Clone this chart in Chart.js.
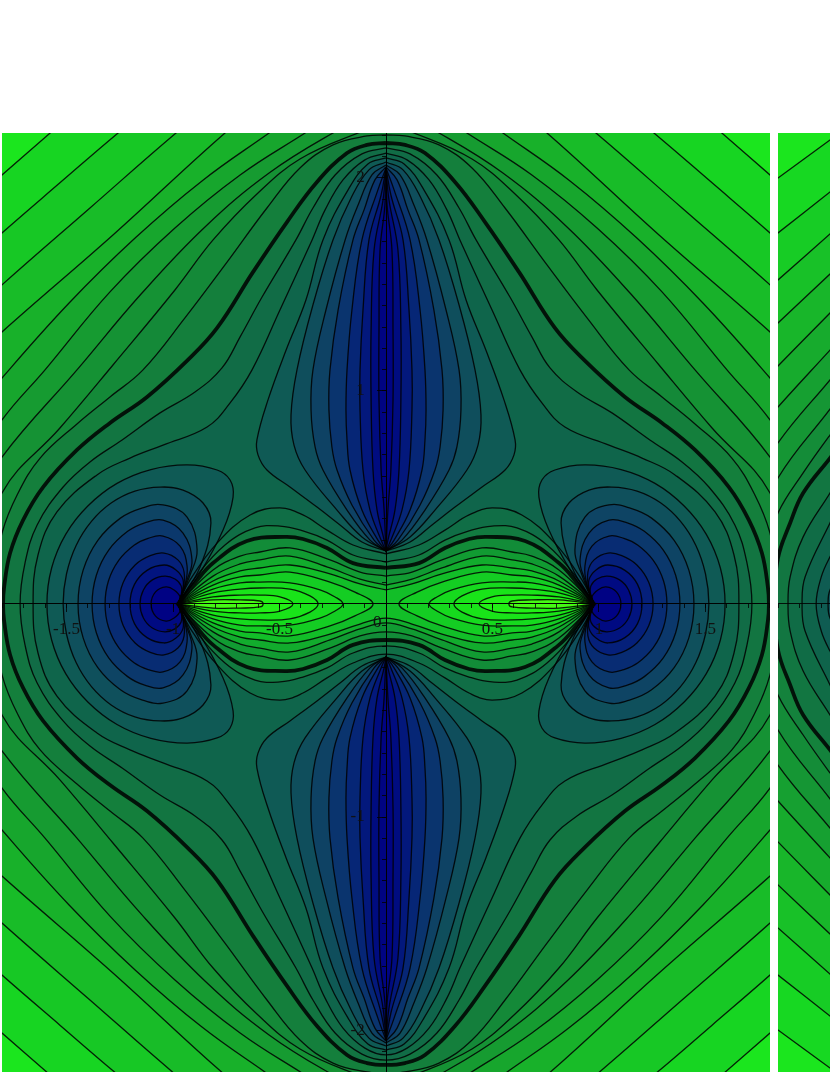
<!DOCTYPE html>
<html>
<head>
<meta charset="utf-8">
<title>Contour plot</title>
<script src="https://cdn.jsdelivr.net/npm/chart.js@4"></script>
<style>
html, body { margin: 0; padding: 0; background: #fff; }
canvas { position: absolute; top: 133px; background: rgb(27, 230, 30); filter: blur(0.5px); }
#left { left: 2px; }
#right { left: 778px; }
#zero { position: absolute; left: 373px; top: 612px; font: 17px "Liberation Serif"; color: #111; filter: blur(0.5px); }
</style>
</head>
<body>
<canvas id="left" width="768" height="939"></canvas>
<canvas id="right" width="52" height="939"></canvas>
<div id="zero">0</div>
<script>
// each list is one quarter of a contour, the rest is mirrored
const outer1 = [[0,3.7],[-0.7,3],[-1.3,2.45],[-1.577,2.211],[-1.803,2.014],[-2.1,1.75],[-3,0]];
const outer2 = [[0,3.3],[-0.6,2.75],[-1,2.42],[-1.258,2.211],[-1.531,1.977],[-1.803,1.742],[-2.05,1.52],[-2.7,0]];
const outer3 = [[0,3],[-0.45,2.62],[-0.75,2.4],[-0.986,2.211],[-1.39,1.859],[-1.803,1.498],[-2.05,1.27],[-2.5,0]];
const outer4 = [[0,2.75],[-0.3,2.55],[-0.55,2.37],[-0.756,2.211],[-1.282,1.732],[-1.803,1.277],[-2,1.09],[-2.3,0]];
const outer5 = [[0,2.55],[-0.2,2.45],[-0.38,2.33],[-0.549,2.211],[-0.864,1.986],[-1.178,1.718],[-1.488,1.413],[-1.803,1.061],[-1.95,0.88],[-2.1,0]];
const outer6 = [[0,2.42],[-0.12,2.37],[-0.25,2.295],[-0.38,2.211],[-0.685,2.014],[-0.991,1.765],[-1.296,1.465],[-1.601,1.099],[-1.803,0.864],[-1.93,0.65],[-2.03,0]];
const outer7 = [[0,2.3],[-0.12,2.27],[-0.249,2.211],[-0.549,2.023],[-0.85,1.77],[-1.15,1.455],[-1.451,1.099],[-1.803,0.69],[-1.9,0.5],[-1.95,0]];
const outer8 = [[0,2.25],[-0.131,2.211],[-0.404,2.089],[-0.606,1.925],[-0.812,1.709],[-0.991,1.474],[-1.282,1.122],[-1.531,0.826],[-1.803,0.521],[-1.84,0.25],[-1.86,0]];
const outer9 = [[0,2.202],[-0.089,2.197],[-0.249,2.155],[-0.404,2.047],[-0.559,1.859],[-0.756,1.592],[-0.944,1.343],[-1.141,1.099],[-1.296,0.972],[-1.451,0.845],[-1.624,0.685],[-1.732,0.512],[-1.803,0.333],[-1.83,0.15],[-1.84,0]];
const thickOuter = [[0,2.164],[-0.089,2.155],[-0.183,2.117],[-0.324,1.981],[-0.465,1.793],[-0.624,1.559],[-0.793,1.296],[-0.93,1.146],[-1.122,0.972],[-1.296,0.85],[-1.451,0.723],[-1.61,0.549],[-1.704,0.394],[-1.765,0.239],[-1.793,0.08],[-1.798,0]];
const wrap1Outer = [[0,2.141],[-0.113,2.113],[-0.239,2.014],[-0.343,1.859],[-0.423,1.709],[-0.582,1.441],[-0.685,1.254],[-0.77,1.108],[-0.897,0.995],[-1.061,0.897],[-1.239,0.77],[-1.39,0.667],[-1.516,0.549],[-1.638,0.371],[-1.695,0.192],[-1.718,0]];
const wrap2Outer = [[0,2.117],[-0.099,2.085],[-0.202,1.991],[-0.286,1.85],[-0.347,1.709],[-0.498,1.38],[-0.629,1.099],[-0.732,0.944],[-0.84,0.831],[-1.047,0.746],[-1.202,0.685],[-1.357,0.606],[-1.545,0.432],[-1.634,0.23],[-1.657,0]];

// inner peanut, from the y axis out to the point at -1
const wrap2Inner = [[0,0.235],[-0.155,0.277],[-0.277,0.347],[-0.39,0.418],[-0.498,0.451],[-0.638,0.418],[-0.793,0.286],[-0.92,0.113],[-0.977,0]];
const wrap1Inner = [[0,0.197],[-0.155,0.23],[-0.277,0.3],[-0.39,0.343],[-0.498,0.366],[-0.615,0.357],[-0.756,0.277],[-0.897,0.122],[-0.977,0]];
const thickInner = [[0,0.169],[-0.155,0.192],[-0.277,0.263],[-0.39,0.305],[-0.474,0.315],[-0.653,0.296],[-0.812,0.192],[-0.897,0.099],[-0.977,0]];
const inner1 = [[0,0.131],[-0.122,0.15],[-0.263,0.207],[-0.451,0.263],[-0.592,0.244],[-0.685,0.225],[-0.812,0.16],[-0.977,0]];
const inner2 = [[0,0.089],[-0.122,0.117],[-0.263,0.169],[-0.451,0.225],[-0.592,0.207],[-0.685,0.188],[-0.812,0.131],[-0.977,0]];
const inner3 = [[0,0.066],[-0.122,0.094],[-0.263,0.141],[-0.451,0.183],[-0.592,0.169],[-0.685,0.155],[-0.812,0.108],[-0.977,0]];

// bright loops on the x axis, from -1 to their tip
const bright5 = [[-0.977,0],[-0.812,0.089],[-0.685,0.127],[-0.592,0.136],[-0.451,0.15],[-0.263,0.103],[-0.146,0.056],[-0.061,0]];
const bright4 = [[-0.977,0],[-0.812,0.07],[-0.685,0.099],[-0.592,0.103],[-0.451,0.099],[-0.31,0.066],[-0.239,0.033],[-0.202,0]];
const bright3 = [[-0.977,0],[-0.812,0.052],[-0.685,0.07],[-0.592,0.075],[-0.451,0.07],[-0.357,0.038],[-0.319,0]];
const bright2 = [[-0.977,0],[-0.812,0.033],[-0.685,0.042],[-0.592,0.042],[-0.498,0.033],[-0.437,0]];
const bright1 = [[-0.977,0],[-0.812,0.019],[-0.685,0.019],[-0.592,0.014],[-0.577,0]];

// blue lobes on the y axis, top to bottom
const top1 = [[0,2.094],[-0.085,2.066],[-0.178,1.944],[-0.296,1.709],[-0.376,1.427],[-0.469,1.192],[-0.554,0.958],[-0.606,0.77],[-0.601,0.7],[-0.559,0.629],[-0.451,0.549],[-0.324,0.455],[-0.216,0.371],[-0.113,0.291],[0,0.249]];
const top2 = [[0,2.075],[-0.08,2.038],[-0.164,1.906],[-0.249,1.709],[-0.343,1.404],[-0.418,1.099],[-0.446,0.887],[-0.432,0.746],[-0.38,0.629],[-0.23,0.441],[-0.113,0.315],[0,0.249]];
const top3 = [[0,2.061],[-0.066,2.014],[-0.131,1.873],[-0.192,1.709],[-0.282,1.38],[-0.343,1.099],[-0.352,0.911],[-0.333,0.737],[-0.296,0.629],[-0.183,0.441],[-0.075,0.3],[0,0.249]];
const top4 = [[0,2.052],[-0.052,1.991],[-0.103,1.85],[-0.155,1.709],[-0.225,1.38],[-0.263,1.099],[-0.268,0.911],[-0.254,0.737],[-0.23,0.629],[-0.16,0.465],[-0.056,0.3],[0,0.249]];
const top5 = [[0,2.047],[-0.038,1.944],[-0.113,1.709],[-0.16,1.38],[-0.183,1.099],[-0.188,0.911],[-0.183,0.77],[-0.169,0.629],[-0.113,0.441],[-0.038,0.3],[0,0.249]];
const top6 = [[0,2.047],[-0.023,1.92],[-0.08,1.709],[-0.108,1.38],[-0.122,1.099],[-0.122,0.911],[-0.108,0.629],[-0.075,0.441],[-0.023,0.3],[0,0.249]];
const top7 = [[0,2.047],[-0.014,1.897],[-0.056,1.662],[-0.07,1.286],[-0.07,0.958],[-0.061,0.629],[-0.042,0.441],[-0.009,0.3],[0,0.249]];
const top8 = [[0,2.047],[-0.005,1.873],[-0.028,1.662],[-0.033,1.286],[-0.033,0.958],[-0.023,0.629],[-0.009,0.441],[0,0.249]];

// blue loops round the point at -1, from the point to the left crossing
const side1 = [[-0.977,0],[-0.873,0.146],[-0.765,0.347],[-0.718,0.502],[-0.732,0.582],[-0.793,0.629],[-0.934,0.653],[-1.104,0.631],[-1.263,0.566],[-1.4,0.46],[-1.504,0.327],[-1.57,0.169],[-1.592,0]];
const side2 = [[-0.977,0],[-0.873,0.174],[-0.822,0.38],[-0.859,0.474],[-0.953,0.535],[-1.061,0.549],[-1.179,0.53],[-1.289,0.475],[-1.383,0.388],[-1.455,0.275],[-1.5,0.142],[-1.516,0]];
const side3 = [[-0.977,0],[-0.92,0.136],[-0.887,0.254],[-0.934,0.408],[-1.047,0.465],[-1.15,0.449],[-1.247,0.403],[-1.353,0.299],[-1.422,0.159],[-1.446,0]];
const side4 = [[-0.977,0],[-0.934,0.113],[-0.911,0.207],[-0.953,0.333],[-1.047,0.394],[-1.133,0.381],[-1.213,0.341],[-1.302,0.253],[-1.36,0.135],[-1.38,0]];
const side5 = [[-0.977,0],[-0.944,0.089],[-0.934,0.178],[-0.967,0.272],[-1.047,0.319],[-1.117,0.308],[-1.183,0.276],[-1.255,0.205],[-1.303,0.109],[-1.319,0]];
const side6 = [[-0.977,0],[-0.953,0.066],[-0.948,0.15],[-0.977,0.207],[-1.042,0.239],[-1.107,0.227],[-1.178,0.183],[-1.234,0.101],[-1.254,0]];
const side7 = [[-0.977,0],[-0.958,0.052],[-0.953,0.113],[-0.986,0.16],[-1.042,0.183],[-1.122,0.158],[-1.181,0.092],[-1.202,0]];
const side8 = [[-0.977,0],[-0.962,0.038],[-0.962,0.085],[-0.991,0.117],[-1.038,0.131],[-1.097,0.113],[-1.139,0.066],[-1.155,0]];
const side9 = [[-0.977,0],[-0.967,0.033],[-0.995,0.066],[-1.033,0.08],[-1.082,0.057],[-1.103,0]];

// second panel, only its left strip is in the picture
const strip1 = [[-1.45,2.258],[-1.559,2.178],[-1.803,2],[-2,1.856],[-2.6,0]];
const strip2 = [[-1.45,2.02],[-1.559,1.934],[-1.803,1.742],[-2,1.59],[-2.5,0]];
const strip3 = [[-1.45,1.833],[-1.559,1.737],[-1.803,1.521],[-2,1.35],[-2.4,0]];
const strip4 = [[-1.45,1.652],[-1.559,1.549],[-1.803,1.319],[-2,1.13],[-2.3,0]];
const strip5 = [[-1.45,1.477],[-1.559,1.366],[-1.803,1.117],[-2,0.91],[-2.2,0]];
const strip6 = [[-1.45,1.312],[-1.559,1.192],[-1.803,0.925],[-2,0.7],[-2.12,0]];
const strip7 = [[-1.45,1.184],[-1.559,1.052],[-1.803,0.756],[-1.95,0.5],[-2.05,0]];
const strip8 = [[-1.45,1.06],[-1.559,0.915],[-1.803,0.592],[-1.93,0.3],[-1.98,0]];
const strip9 = [[-1.45,0.935],[-1.559,0.793],[-1.685,0.615],[-1.803,0.427],[-1.88,0.2],[-1.9,0]];
const stripThick = [[-1.45,0.825],[-1.559,0.685],[-1.685,0.521],[-1.746,0.38],[-1.803,0.216],[-1.82,0]];
const strip10 = [[-1.45,0.699],[-1.559,0.521],[-1.685,0.315],[-1.746,0.127],[-1.756,0]];
const strip11 = [[-1.45,0.6],[-1.559,0.38],[-1.676,0.127],[-1.69,0]];
const strip12 = [[-1.45,0.42],[-1.559,0.221],[-1.6,0.127],[-1.624,0]];
const strip13 = [[-1.45,0.27],[-1.559,0.066],[-1.568,0]];

const outerColors = ['rgb(23,213,34)','rgb(23,200,37)','rgb(24,188,40)','rgb(24,177,42)','rgb(23,166,45)','rgb(22,155,49)','rgb(21,146,52)','rgb(20,137,56)','rgb(20,127,60)','rgb(18,117,65)','rgb(17,108,70)','rgb(15,101,75)'];
const peanutColors = ['rgb(16,110,70)','rgb(18,122,64)','rgb(18,140,56)','rgb(17,155,50)','rgb(18,172,45)','rgb(18,190,40)'];
const brightColors = ['rgb(20,205,35)','rgb(22,218,30)','rgb(25,228,25)','rgb(35,240,22)','rgb(70,250,20)'];
const topColors = ['rgb(15,90,85)','rgb(15,78,92)','rgb(14,66,100)','rgb(10,52,110)','rgb(6,38,118)','rgb(3,24,124)','rgb(0,12,128)','rgb(0,4,130)'];
const sideColors = ['rgb(15,90,85)','rgb(15,80,92)','rgb(14,68,100)','rgb(11,56,108)','rgb(8,44,115)','rgb(5,32,122)','rgb(2,20,127)','rgb(0,10,130)','rgb(0,2,132)'];
const stripColors = ['rgb(23,216,34)','rgb(23,204,37)','rgb(24,193,40)','rgb(24,182,42)','rgb(23,171,45)','rgb(22,160,49)','rgb(21,150,52)','rgb(20,140,56)','rgb(20,130,60)','rgb(18,118,65)','rgb(16,108,70)','rgb(15,100,75)','rgb(15,92,82)','rgb(15,84,90)'];

const flip = (q, sx, sy) => q.map(p => [p[0] * sx, p[1] * sy]);
const back = q => q.slice().reverse();
const same = (a, b) => a[0] === b[0] && a[1] === b[1];

// a repeated point leaves a sharp corner in the spline, so only repeat it at the cusps
function joined(pts, keepCusp) {
    return pts.filter((p, i) => i === 0 || !same(p, pts[i - 1]) || (keepCusp && p[1] === 0));
}
// q runs from the y axis to the x axis
function ring(q, keepCusp) {
    return joined([...q, ...back(flip(q, 1, -1)), ...flip(q, -1, -1), ...back(flip(q, -1, 1))], keepCusp);
}
function mirrorX(q, sx) {
    return joined([...flip(q, sx, 1), ...back(flip(q, sx, -1))], false);
}
function mirrorY(q, sy) {
    return [...flip(q, 1, sy), ...back(flip(q, -1, sy))];
}

function contour(points, color, width) {
    return {
        data: points.map(p => ({ x: p[0], y: p[1] })),
        showLine: true,
        fill: 'shape',
        backgroundColor: color,
        borderColor: 'rgba(0,0,0,0.85)',
        borderWidth: width || 1.3,
        pointRadius: 0,
        tension: 0.4,
        clip: 0
    };
}

const layers = [];
[outer1, outer2, outer3, outer4, outer5, outer6, outer7, outer8, outer9, thickOuter, wrap1Outer, wrap2Outer].forEach((q, i) => {
    layers.push(contour(ring(q, false), outerColors[i], q === thickOuter ? 3.8 : 1.3));
});
[wrap2Inner, wrap1Inner, thickInner, inner1, inner2, inner3].forEach((q, i) => {
    layers.push(contour(ring(q, true), peanutColors[i], q === thickInner ? 3.8 : 1.3));
});
[bright5, bright4, bright3, bright2, bright1].forEach((q, i) => {
    layers.push(contour(mirrorX(q, 1), brightColors[i]));
    layers.push(contour(mirrorX(q, -1), brightColors[i]));
});
[top1, top2, top3, top4, top5, top6, top7, top8].forEach((q, i) => {
    layers.push(contour(mirrorY(q, 1), topColors[i]));
    layers.push(contour(mirrorY(q, -1), topColors[i]));
});
[side1, side2, side3, side4, side5, side6, side7, side8, side9].forEach((q, i) => {
    layers.push(contour(mirrorX(q, 1), sideColors[i]));
    layers.push(contour(mirrorX(q, -1), sideColors[i]));
});

const stripLayers = [strip1, strip2, strip3, strip4, strip5, strip6, strip7, strip8, strip9, stripThick, strip10, strip11, strip12, strip13].map((q, i) => {
    return contour(mirrorX(q, 1), stripColors[i], q === stripThick ? 3.8 : 1.3);
});

// the y labels are right aligned on the axis itself, the trailing spaces push them clear of it
function tickLabel(v, trailing, min, max) {
    if (Math.abs(v) < 0.001 || v < min || v > max) {
        return '';
    }
    return String(Math.round(v * 10) / 10) + trailing;
}

function axisOptions(axis, cross, step, tickLength, min, max, labels, trailing) {
    return {
        type: 'linear',
        axis: axis,
        min: min,
        max: max,
        position: cross,
        border: { display: true, color: 'rgba(0,0,0,0.85)', width: 1, z: 5 },
        grid: { drawOnChartArea: false, drawTicks: true, tickLength: tickLength, color: 'rgba(0,0,0,0.8)', z: 5 },
        // the axes sit inside the plot, they must not shrink it
        afterFit: scale => {
            scale.paddingTop = 0;
            scale.paddingBottom = 0;
            scale.paddingLeft = 0;
            scale.paddingRight = 0;
        },
        ticks: {
            stepSize: step,
            autoSkip: false,
            includeBounds: false,
            maxRotation: 0,
            display: labels,
            padding: 7,
            color: '#111',
            z: 5,
            font: { family: 'Liberation Serif', size: 17 },
            callback: v => tickLabel(v, trailing, min, max)
        }
    };
}

const chartDefaults = {
    responsive: false,
    animation: false,
    events: [],
    layout: { padding: 0 },
    plugins: {
        legend: { display: false },
        tooltip: { enabled: false },
        filler: { drawTime: 'beforeDatasetsDraw' }
    }
};

const yMax = 2.211, yMin = -2.197;

new Chart(document.getElementById('left'), {
    type: 'scatter',
    // chart.js paints the last dataset first
    data: { datasets: layers.slice().reverse() },
    options: {
        ...chartDefaults,
        scales: {
            x: axisOptions('x', { y: 0 }, 0.1, 4, -1.803, 1.803, false, ''),
            y: axisOptions('y', { x: 0 }, 0.1, 4, yMin, yMax, false, ''),
            xMajor: axisOptions('x', { y: 0 }, 0.5, 8, -1.803, 1.803, true, ''),
            yMajor: axisOptions('y', { x: 0 }, 1, 9, yMin, yMax, true, '\u00a0\u00a0\u00a0\u00a0\u00a0')
        }
    }
});

new Chart(document.getElementById('right'), {
    type: 'scatter',
    data: { datasets: stripLayers.slice().reverse() },
    options: {
        ...chartDefaults,
        scales: {
            x: axisOptions('x', { y: 0 }, 0.1, 4, -1.803, -1.559, false, ''),
            y: { type: 'linear', display: false, min: yMin, max: yMax }
        }
    }
});
</script>
</body>
</html>
